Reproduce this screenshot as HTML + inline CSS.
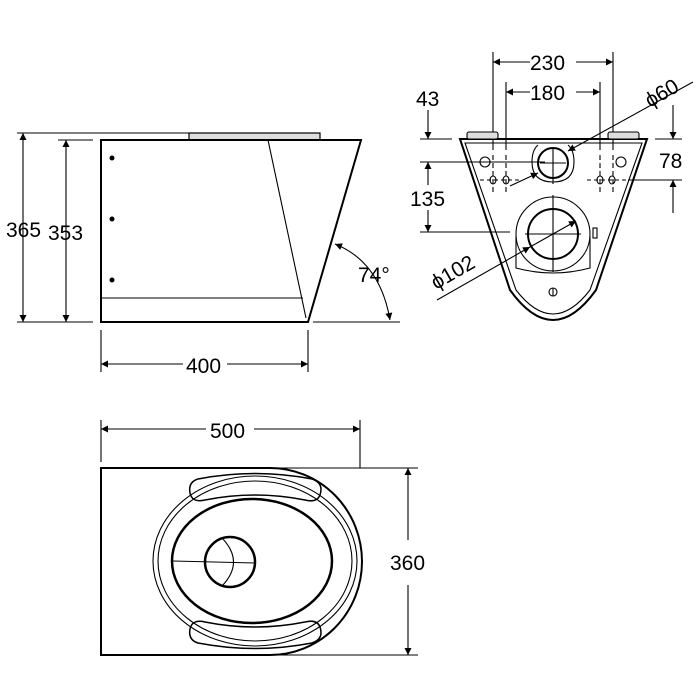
<!DOCTYPE html>
<html><head><style>
html,body{margin:0;padding:0;background:#fff;}
svg{display:block;}
text{font-family:"Liberation Sans",sans-serif;font-size:21px;fill:#000;}
</style></head><body>
<svg width="700" height="700" viewBox="0 0 700 700" xmlns="http://www.w3.org/2000/svg">
<defs>
<marker id="a" viewBox="0 0 10 10" refX="10" refY="5" markerWidth="16" markerHeight="7" markerUnits="userSpaceOnUse" orient="auto-start-reverse"><path d="M0,0 L10,5 L0,10 z" fill="#000"/></marker>
</defs>
<g fill="none" stroke="#000" stroke-width="1.1">
<!-- SIDE VIEW -->
<line x1="17" y1="133" x2="190" y2="133"/>
<line x1="58" y1="140" x2="93" y2="140"/>
<line x1="17" y1="322" x2="93" y2="322"/>
<line x1="23" y1="133" x2="23" y2="322" marker-start="url(#a)" marker-end="url(#a)"/>
<line x1="66" y1="140" x2="66" y2="322" marker-start="url(#a)" marker-end="url(#a)"/>
<rect x="189" y="133" width="131" height="7" fill="#ddd" stroke-width="1.2"/>
<path d="M101,140 L361,140 L308,322 L101,322 Z" stroke-width="2"/>
<line x1="268" y1="140" x2="306" y2="318"/>
<line x1="101" y1="298" x2="303" y2="298"/>
<line x1="313" y1="322" x2="400" y2="322"/>
<path d="M335,244 Q380,262 390,320" marker-start="url(#a)" marker-end="url(#a)"/>
<line x1="101" y1="330" x2="101" y2="372"/>
<line x1="308" y1="330" x2="308" y2="372"/>
<line x1="101" y1="364" x2="183" y2="364" marker-start="url(#a)"/>
<line x1="227" y1="364" x2="308" y2="364" marker-end="url(#a)"/>
<!-- FRONT VIEW -->
<line x1="493" y1="52" x2="493" y2="150"/>
<line x1="613" y1="52" x2="613" y2="150"/>
<line x1="506" y1="82" x2="506" y2="150"/>
<line x1="600" y1="82" x2="600" y2="150"/>
<line x1="493" y1="155" x2="493" y2="192" stroke-dasharray="5,3"/>
<line x1="613" y1="155" x2="613" y2="192" stroke-dasharray="5,3"/>
<line x1="506" y1="155" x2="506" y2="192" stroke-dasharray="5,3"/>
<line x1="600" y1="155" x2="600" y2="192" stroke-dasharray="5,3"/>
<line x1="493" y1="62" x2="530" y2="62" marker-start="url(#a)"/>
<line x1="576" y1="62" x2="613" y2="62" marker-end="url(#a)"/>
<line x1="506" y1="92" x2="530" y2="92" marker-start="url(#a)"/>
<line x1="576" y1="92" x2="600" y2="92" marker-end="url(#a)"/>
<line x1="420" y1="139" x2="452" y2="139"/>
<line x1="428" y1="110" x2="428" y2="139" marker-end="url(#a)"/>
<line x1="420" y1="162" x2="545" y2="162"/>
<line x1="420" y1="232" x2="510" y2="232"/>
<line x1="428" y1="185" x2="428" y2="162" marker-end="url(#a)"/>
<line x1="428" y1="210" x2="428" y2="232" marker-end="url(#a)"/>
<line x1="655" y1="139" x2="682" y2="139"/>
<line x1="628" y1="180" x2="682" y2="180"/>
<line x1="673" y1="105" x2="673" y2="139" marker-end="url(#a)"/>
<line x1="673" y1="213" x2="673" y2="180" marker-end="url(#a)"/>
<path d="M460,139 L647,139 L596,290 Q553,350 510,290 Z" stroke-width="2"/>
<path d="M465,143 L642,143 L590,290 Q553,338 516,290 Z"/>
<rect x="467" y="132" width="31" height="7" rx="2" fill="#ddd"/>
<rect x="608" y="132" width="31" height="7" rx="2" fill="#ddd"/>
<path d="M538,145 Q532,150 532,162 Q532,182 553,182 Q574,182 574,162 Q574,150 568,145"/>
<circle cx="553" cy="163" r="15" stroke-width="2"/>
<circle cx="553" cy="234" r="37"/>
<circle cx="553" cy="234" r="25" stroke-width="2"/>
<path d="M516,236 L516,268 Q553,278 590,268 L590,236"/>
<rect x="593" y="228" width="4" height="10"/>
<line x1="553" y1="148" x2="553" y2="184"/><line x1="540" y1="163" x2="566" y2="163"/>
<line x1="553" y1="195" x2="553" y2="272"/><line x1="525" y1="234" x2="581" y2="234"/>
<circle cx="485" cy="162" r="5"/><circle cx="621" cy="162" r="5"/>
<circle cx="553" cy="292" r="4"/><line x1="553" y1="288" x2="553" y2="296"/>
<ellipse cx="493" cy="180" rx="3" ry="4"/><ellipse cx="506" cy="180" rx="3" ry="4"/>
<ellipse cx="600" cy="180" rx="3" ry="4"/><ellipse cx="612" cy="180" rx="3" ry="4"/>
<line x1="480" y1="180" x2="520" y2="180" stroke-dasharray="4,3"/>
<line x1="587" y1="180" x2="628" y2="180" stroke-dasharray="4,3"/>
<line x1="510" y1="186" x2="538" y2="173" marker-end="url(#a)"/>
<line x1="693" y1="82" x2="568" y2="151" marker-end="url(#a)"/>
<line x1="437" y1="300" x2="530" y2="247" marker-end="url(#a)"/>
<line x1="530" y1="247" x2="576" y2="221" marker-end="url(#a)"/>
<!-- TOP VIEW -->
<line x1="101" y1="420" x2="101" y2="462"/>
<line x1="360" y1="420" x2="360" y2="468"/>
<line x1="101" y1="429" x2="206" y2="429" marker-start="url(#a)"/>
<line x1="254" y1="429" x2="360" y2="429" marker-end="url(#a)"/>
<path d="M101,468 L270,468 A92,93.5 0 0 1 270,655 L101,655 Z" stroke-width="2"/>
<line x1="270" y1="468" x2="418" y2="468"/>
<line x1="270" y1="655" x2="418" y2="655"/>
<line x1="408" y1="468" x2="408" y2="540" marker-start="url(#a)"/>
<line x1="408" y1="585" x2="408" y2="655" marker-end="url(#a)"/>
<ellipse cx="255" cy="561" rx="102" ry="85"/>
<ellipse cx="255" cy="561" rx="97" ry="80"/>
<ellipse cx="252" cy="561" rx="80" ry="62" stroke-width="2.5"/>
<circle cx="230" cy="562" r="25" stroke-width="2.5"/>
<path d="M222,538 Q245,562 222,586"/>
<line x1="173" y1="561" x2="255" y2="563"/>
<path d="M198,479 Q255,468 312,479 Q324,483 320,495 Q317,503 305,500 Q255,490 205,500 Q192,503 190,493 Q188,482 198,479 Z" stroke-width="1.5"/>
<path d="M198,643 Q255,654 312,643 Q324,639 320,627 Q317,619 305,622 Q255,632 205,622 Q192,619 190,629 Q188,640 198,643 Z" stroke-width="1.5"/>
</g>
<g fill="#000">
<circle cx="112" cy="158" r="2.5"/><circle cx="112" cy="219" r="2.5"/><circle cx="112" cy="280" r="2.5"/>
</g>
<text x="6" y="237">365</text>
<text x="48" y="240">353</text>
<text x="358" y="282">74°</text>
<text x="186" y="373">400</text>
<text x="530" y="70">230</text>
<text x="530" y="100">180</text>
<text x="416" y="106">43</text>
<text x="410" y="206">135</text>
<text x="659" y="168">78</text>
<text x="210" y="438">500</text>
<text x="390" y="570">360</text>
<text transform="translate(650,108) rotate(-30)">ϕ60</text>
<text transform="translate(436,290) rotate(-30)">ϕ102</text>
</svg>
</body></html>
